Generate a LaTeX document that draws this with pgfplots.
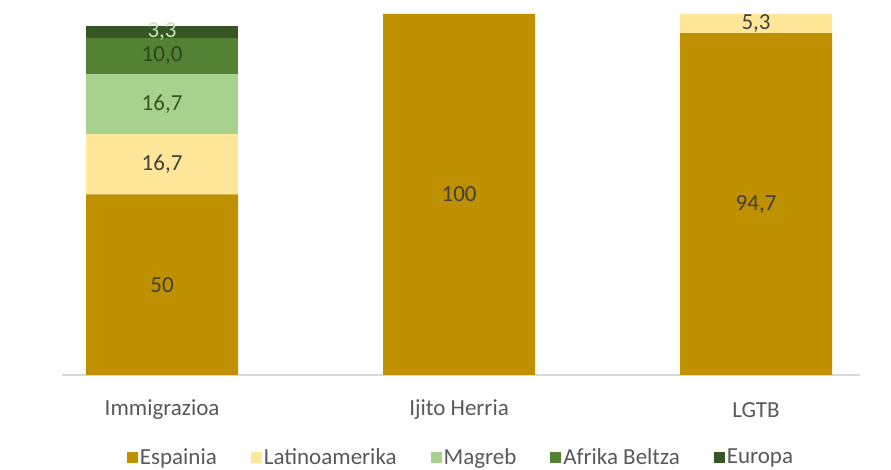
\documentclass[border=0pt]{standalone}
\usepackage{fontspec}
\setmainfont{Carlito}
\usepackage{pgfplots}
\pgfplotsset{compat=1.18}
\definecolor{esp}{HTML}{BF9000}
\definecolor{lat}{HTML}{FFE699}
\definecolor{mag}{HTML}{A9D18E}
\definecolor{afr}{HTML}{548235}
\definecolor{eur}{HTML}{375623}
\definecolor{axisgray}{HTML}{D9D9D9}
\definecolor{labgray}{HTML}{595959}
\definecolor{datgray}{HTML}{404040}
\begin{document}
\begin{tikzpicture}
\useasboundingbox (-62pt,-95pt) rectangle (829pt,375pt);
\begin{axis}[
  at={(0pt,0pt)}, anchor=south west,
  scale only axis, width=798pt, height=361pt,
  xmin=-0.337, xmax=2.35, ymin=0, ymax=100,
  ybar stacked, bar width=0.512,
  axis x line*=bottom, axis y line=none,
  x axis line style={draw=axisgray, line width=1.5pt, -},
  xtick={0,1,2}, xticklabels={Immigrazioa, Ijito Herria, LGTB},
  major tick length=0pt, tick style={draw=none},
  xticklabel style={font=\fontsize{23}{27}\selectfont, text=labgray, anchor=center, yshift=-35pt},
  every axis plot post/.append style={draw=none, legend image code/.code={\fill[##1] (0pt,-5.5pt) rectangle (11pt,5.5pt);}},
  legend style={at={(0.5,-0.228)}, anchor=center, draw=none, fill=none, legend columns=5,
    font=\fontsize{23}{27}\selectfont, text=labgray,
    /tikz/every even column/.append style={column sep=32pt}},
  point meta=explicit symbolic,
  nodes near coords,
  every node near coord/.append style={anchor=center, font=\fontsize{23}{27}\selectfont},
]
\addplot[fill=esp, every node near coord/.append style={text=datgray}] coordinates {(0,50) [50] (1,100) [100] (2,94.7) [{94,7}]};
\addlegendentry{Espainia}
\addplot[fill=lat, every node near coord/.append style={text=datgray}] coordinates {(0,16.7) [{16,7}] (1,0) [{}] (2,5.3) [{5,3}]};
\addlegendentry{Latinoamerika}
\addplot[fill=mag, every node near coord/.append style={text=eur}] coordinates {(0,16.7) [{16,7}] (1,0) [{}] (2,0) [{}]};
\addlegendentry{Magreb}
\addplot[fill=afr, every node near coord/.append style={text=eur!80!black}] coordinates {(0,10.0) [{10,0}] (1,0) [{}] (2,0) [{}]};
\addlegendentry{Afrika Beltza}
\addplot[fill=eur, every node near coord/.append style={text=mag!60!white}] coordinates {(0,3.3) [{3,3}] (1,0) [{}] (2,0) [{}]};
\addlegendentry{Europa}
\end{axis}
\end{tikzpicture}
\end{document}
